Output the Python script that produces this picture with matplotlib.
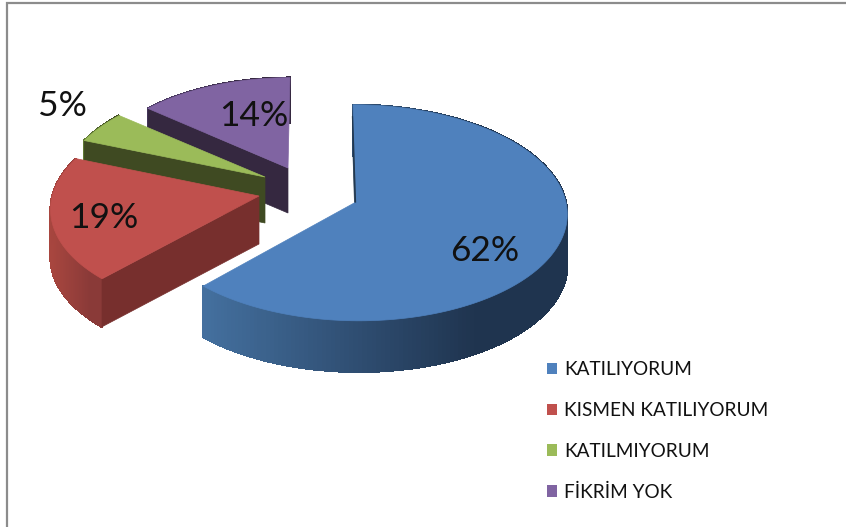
#!/usr/bin/env python

import numpy as np
import matplotlib
matplotlib.use('Agg')
import matplotlib.pyplot as plt
from matplotlib.colors import to_rgb
from matplotlib.patches import Patch, Polygon

# Chart data
categories = ['KATILIYORUM', 'KISMEN KATILIYORUM', 'KATILMIYORUM', 'FİKRİM YOK']
percents = [62, 19, 5, 14]
pct_labels = ['62%', '19%', '5%', '14%']

# Styling: one entry per slice
top_colors = ['#4F81BD', '#C0504D', '#9BBB59', '#8064A2']
edge_colors = ['#22384F', '#772F2D', '#3F4A22', '#352840']
arc_left = ['#44709F', '#A8463F', '#5F7A33', '#4C3B66']
arc_right = ['#1F344F', '#8A3A38', '#3F4A22', '#352840']
apex_x = [356, 259, 265, 288]
apex_y = [202, 196, 177, 168]
scales = [0.99, 0.975, 0.95, 0.92]
skews = [-3, 6, 0, 2]
depths = [51, 48, 46, 45]
label_x = [485, 104, 62, 254]
label_y = [251, 218, 106, 116]

RX, RY, PERSP = 212, 108, 0.10

plt.rcParams['font.family'] = ['Lato', 'DejaVu Sans']

fig = plt.figure(figsize = (8.46, 5.27), dpi = 100)
ax = fig.add_axes([0, 0, 1, 1])
ax.set_xlim(0, 846)
ax.set_ylim(527, 0)
ax.axis('off')

# Grey frame on the top and left only
ax.plot([7, 7, 846], [527, 3, 3], color = '#8C8C8C', lw = 1.6, solid_joinstyle = 'miter')

def project(theta, i):
    # Clockwise angle from the back of the disc to picture position
    u, v = np.sin(theta), np.cos(theta)
    f = scales[i] / (1 + PERSP * v)
    return apex_x[i] + RX * u * f + skews[i] * v, apex_y[i] - RY * v * f

ends = np.cumsum(percents) / np.sum(percents) * 2 * np.pi
starts = np.concatenate(([0], ends[:-1]))

# Back slices first so that the big front slice sits on top
for i in [3, 2, 1, 0]:
    theta = np.linspace(starts[i], ends[i], 200)
    x, y = project(theta, i)
    ax0, ay0 = apex_x[i], apex_y[i]
    d = depths[i]

    # Rounded outer wall, shaded left to right
    c0, c1 = np.array(to_rgb(arc_left[i])), np.array(to_rgb(arc_right[i]))
    x_lo, x_hi = x.min(), x.max()
    for j in range(len(x) - 1):
        t = min(1, (x[j] - x_lo) / (x_hi - x_lo) / 0.75)
        c = c0 + (c1 - c0) * t
        quad = [(x[j], y[j]), (x[j + 1], y[j + 1]),
                (x[j + 1], y[j + 1] + d), (x[j], y[j] + d)]
        ax.add_patch(Polygon(quad, fc = c, ec = c, lw = 1, antialiased = False))

    # Flat cut face on the clockwise start of the slice
    quad = [(ax0, ay0), (x[0], y[0]), (x[0], y[0] + d), (ax0, ay0 + d)]
    ax.add_patch(Polygon(quad, fc = edge_colors[i], ec = edge_colors[i], lw = 0.5))

    # Top face
    top = np.column_stack((np.r_[ax0, x], np.r_[ay0, y]))
    ax.add_patch(Polygon(top, fc = top_colors[i], ec = top_colors[i], lw = 0.5))

    # The big slice shows a thin dark sliver along its first cut
    if i == 0:
        ax.plot([x[0] - 0.5, ax0 - 0.5], [y[0] + 12, ay0], color = edge_colors[i], lw = 0.9)

    ax.text(label_x[i], label_y[i], pct_labels[i], fontsize = 25.5, color = '#111111',
            ha = 'center', va = 'center')

handles = [Patch(fc = c, ec = 'none') for c in top_colors]
ax.legend(handles, categories, loc = 'upper left', bbox_to_anchor = (0.6466, 0.3145),
          frameon = False, fontsize = 13.7, handlelength = 0.53, handleheight = 0.53,
          handletextpad = 0.38, labelspacing = 1.25, labelcolor = '#111111',
          borderpad = 0, borderaxespad = 0)

plt.savefig('out.png', dpi = 100)
